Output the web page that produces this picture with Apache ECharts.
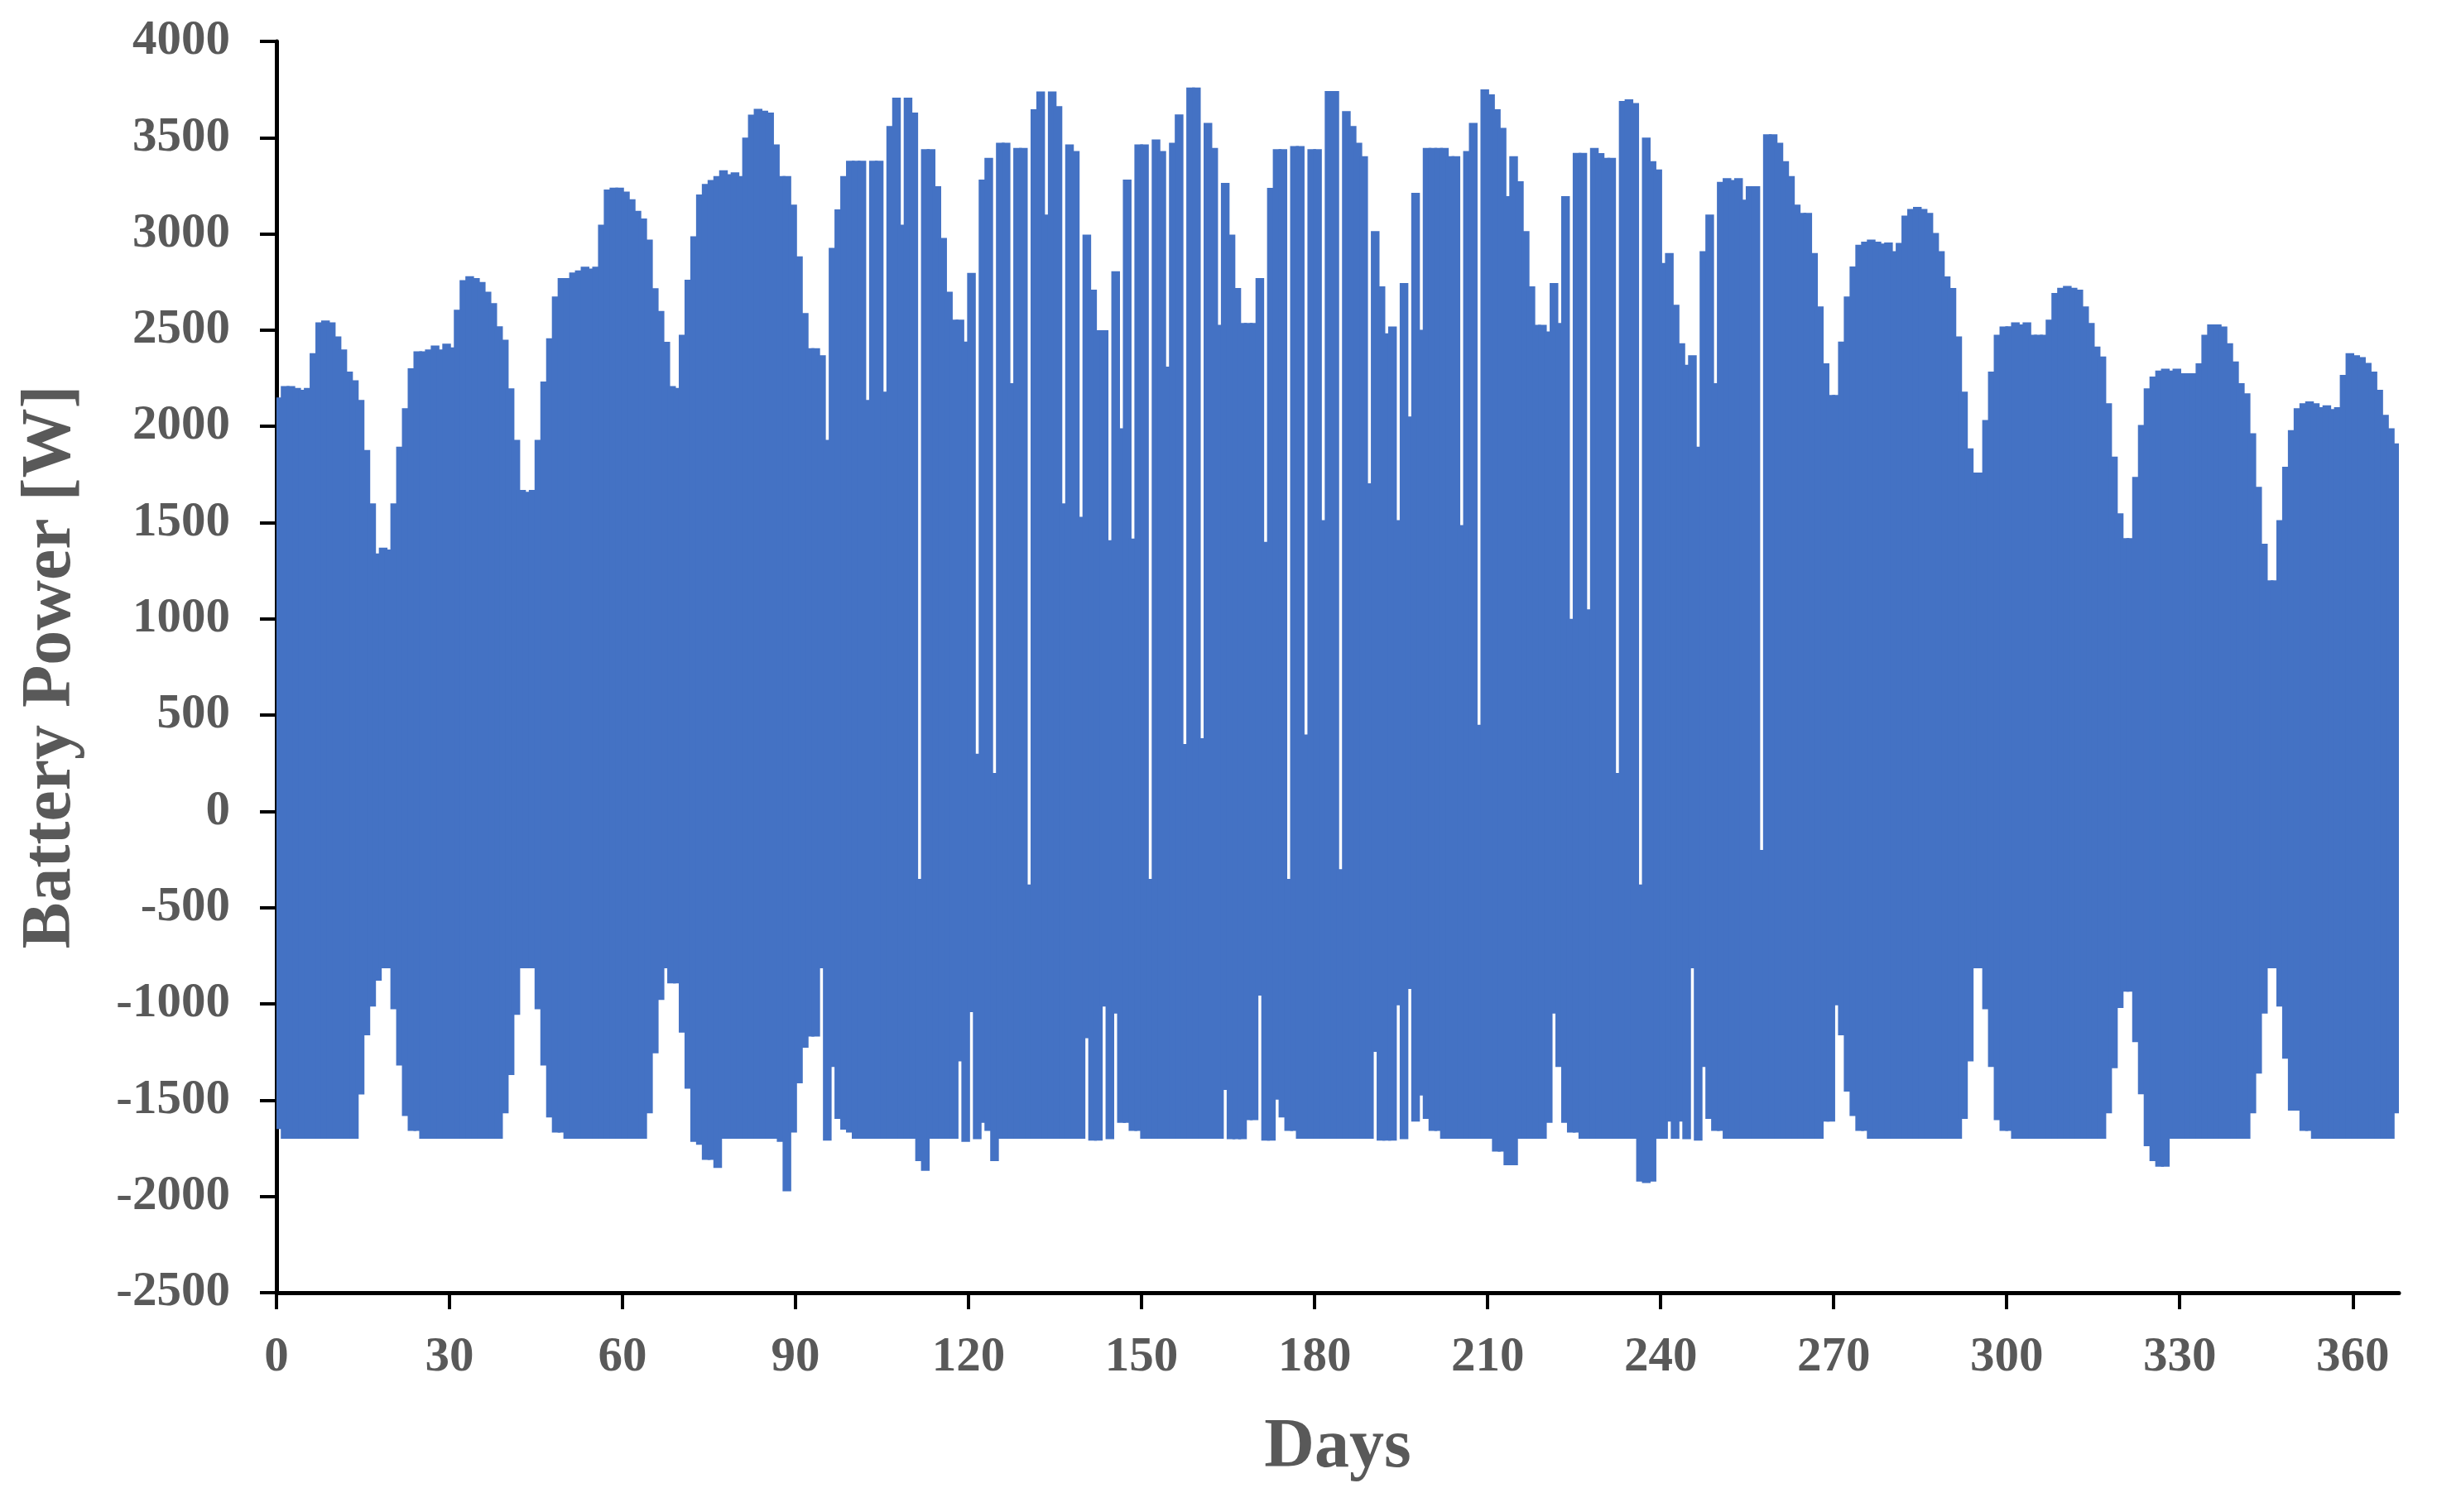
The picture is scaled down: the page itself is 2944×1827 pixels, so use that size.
<!DOCTYPE html>
<html>
<head>
<meta charset="utf-8">
<title>Battery Power</title>
<script src="https://cdn.jsdelivr.net/npm/echarts@6.0.0/dist/echarts.min.js"></script>
<style>
  html, body { margin: 0; padding: 0; background: #fff; }
  #main { width: 2944px; height: 1827px; }
</style>
</head>
<body>
<div id="main"></div>
<script>
// daily maximum battery power [W], day 0 .. 367
var dayMax = [
  2150, 2210, 2210, 2200, 2190, 2200, 2380, 2540, 2550, 2540,
  2467, 2400, 2285, 2240, 2137, 1877, 1600, 1340, 1370, 1360,
  1600, 1895, 2094, 2302, 2390, 2390, 2400, 2420, 2400, 2430,
  2410, 2606, 2760, 2780, 2770, 2750, 2700, 2640, 2520, 2450,
  2198, 1930, 1670, 1660, 1670, 1930, 2233, 2458, 2675, 2771,
  2771, 2800, 2810, 2830, 2820, 2830, 3048, 3230, 3240, 3240,
  3220, 3180, 3120, 3080, 2970, 2718, 2600, 2440, 2210, 2200,
  2476, 2762, 2988, 3205, 3260, 3280, 3300, 3330, 3310, 3320,
  3300, 3500, 3620, 3650, 3640, 3630, 3465, 3300, 3300, 3152,
  2883, 2589, 2406, 2406, 2370, 1930, 2927, 3127, 3300, 3380,
  3380, 3380, 2137, 3380, 3380, 2180, 3560, 3708, 3048, 3708,
  3630, -350, 3440, 3440, 3248, 2979, 2700, 2554, 2554, 2441,
  2797, 300, 3282, 3395, 200, 3473, 3473, 2224, 3447, 3447,
  -380, 3647, 3740, 3100, 3740, 3664, 1600, 3465, 3430, 1530,
  2996, 2710, 2500, 2500, 1409, 2806, 1990, 3282, 1417, 3465,
  3465, -350, 3491, 3430, 2311, 3473, 3621, 350, 3760, 3760,
  380, 3577, 3447, 2528, 3265, 2996, 2719, 2537, 2537, 2537,
  2771, 1400, 3239, 3440, 3440, -350, 3456, 3456, 400, 3440,
  3440, 1513, 3742, 3742, -300, 3638, 3560, 3473, 3404, 1704,
  3014, 2727, 2484, 2519, 1513, 2745, 2051, 3213, 2502, 3447,
  3447, 3447, 3447, 3404, 3404, 1487, 3430, 3577, 450, 3751,
  3725, 3647, 3551, 3196, 3404, 3274, 3014, 2727, 2528, 2528,
  2493, 2745, 2537, 3196, 1000, 3421, 3421, 1050, 3447, 3420,
  3395, 3395, 200, 3690, 3699, 3680, -380, 3500, 3378, 3335,
  2849, 2901, 2632, 2432, 2320, 2370, 1895, 2910, 3100, 2224,
  3270, 3290, 3280, 3290, 3178, 3248, 3248, -200, 3517, 3517,
  3473, 3378, 3300, 3152, 3109, 3109, 2901, 2623, 2328, 2163,
  2163, 2441, 2675, 2831, 2944, 2960, 2970, 2960, 2950, 2955,
  2910, 2953, 3095, 3130, 3140, 3130, 3109, 3005, 2910, 2779,
  2719, 2467, 2181, 1886, 1760, 1760, 2033, 2285, 2476, 2519,
  2520, 2540, 2530, 2540, 2476, 2476, 2476, 2554, 2693, 2720,
  2730, 2720, 2710, 2623, 2537, 2415, 2363, 2120, 1843, 1548,
  1420, 1420, 1738, 2007, 2198, 2259, 2290, 2300, 2290, 2300,
  2276, 2276, 2276, 2328, 2476, 2530, 2530, 2519, 2432, 2337,
  2224, 2172, 1964, 1686, 1391, 1200, 1200, 1513, 1790, 1981,
  2094, 2120, 2130, 2120, 2100, 2110, 2090, 2100, 2268, 2380,
  2370, 2360, 2330, 2285, 2190, 2060, 1990, 1912
];

// daily minimum battery power [W], day 0 .. 367
var dayMin = [
  -1650, -1700, -1700, -1700, -1700, -1700, -1700, -1700, -1700, -1700,
  -1700, -1700, -1700, -1700, -1470, -1163, -1014, -879, -815, -815,
  -1028, -1320, -1582, -1660, -1660, -1700, -1700, -1700, -1700, -1700,
  -1700, -1700, -1700, -1700, -1700, -1700, -1700, -1700, -1700, -1568,
  -1369, -1057, -815, -815, -815, -1028, -1320, -1590, -1668, -1668,
  -1700, -1700, -1700, -1700, -1700, -1700, -1700, -1700, -1700, -1700,
  -1700, -1700, -1700, -1700, -1568, -1256, -979, -815, -893, -893,
  -1149, -1440, -1717, -1732, -1810, -1810, -1852, -1700, -1700, -1700,
  -1700, -1700, -1700, -1700, -1700, -1700, -1700, -1717, -1973, -1668,
  -1412, -1227, -1170, -1170, -815, -1710, -1327, -1597, -1653, -1668,
  -1700, -1700, -1700, -1700, -1700, -1700, -1700, -1700, -1700, -1700,
  -1700, -1817, -1867, -1700, -1700, -1700, -1700, -1700, -1298, -1717,
  -1043, -1703, -1618, -1660, -1817, -1700, -1700, -1700, -1700, -1700,
  -1700, -1700, -1700, -1700, -1700, -1700, -1700, -1700, -1700, -1700,
  -1178, -1710, -1710, -1014, -1703, -1050, -1618, -1618, -1660, -1660,
  -1700, -1700, -1700, -1700, -1700, -1700, -1700, -1700, -1700, -1700,
  -1700, -1700, -1700, -1700, -1447, -1703, -1703, -1703, -1604, -1604,
  -957, -1710, -1710, -1497, -1590, -1660, -1660, -1700, -1700, -1700,
  -1700, -1700, -1700, -1700, -1700, -1700, -1700, -1700, -1700, -1700,
  -1249, -1710, -1710, -1710, -1007, -1703, -922, -1611, -1476, -1597,
  -1660, -1660, -1700, -1700, -1700, -1700, -1700, -1700, -1700, -1700,
  -1700, -1767, -1767, -1838, -1838, -1700, -1700, -1700, -1700, -1700,
  -1618, -1050, -1327, -1618, -1668, -1668, -1700, -1700, -1700, -1700,
  -1700, -1700, -1700, -1700, -1700, -1700, -1923, -1930, -1923, -1700,
  -1700, -1611, -1700, -1611, -1703, -815, -1710, -1327, -1597, -1660,
  -1660, -1700, -1700, -1700, -1700, -1700, -1700, -1700, -1700, -1700,
  -1700, -1700, -1700, -1700, -1700, -1700, -1700, -1700, -1611, -1611,
  -1007, -1163, -1455, -1582, -1660, -1660, -1700, -1700, -1700, -1700,
  -1700, -1700, -1700, -1700, -1700, -1700, -1700, -1700, -1700, -1700,
  -1700, -1700, -1597, -1298, -815, -815, -1028, -1327, -1604, -1660,
  -1660, -1700, -1700, -1700, -1700, -1700, -1700, -1700, -1700, -1700,
  -1700, -1700, -1700, -1700, -1700, -1700, -1700, -1568, -1334, -1021,
  -936, -936, -1199, -1469, -1739, -1817, -1845, -1845, -1700, -1700,
  -1700, -1700, -1700, -1700, -1700, -1700, -1700, -1700, -1700, -1700,
  -1700, -1700, -1568, -1362, -1050, -815, -815, -1014, -1284, -1554,
  -1554, -1660, -1660, -1700, -1700, -1700, -1700, -1700, -1700, -1700,
  -1700, -1700, -1700, -1700, -1700, -1700, -1700, -1568
];

var xTicks = [0, 30, 60, 90, 120, 150, 180, 210, 240, 270, 300, 330, 360];
var xMax = 368;
var yMin = -2500, yMax = 4000, yStep = 500;

var fontFam = "'Liberation Serif', 'Times New Roman', serif";
var textGrey = '#595959';
var barBlue = '#4472C4';

var chart = echarts.init(document.getElementById('main'), null, { renderer: 'canvas' });

var seriesData = dayMax.map(function (v, i) {
    return [i, v, dayMin[i]];
});

// one block per day from daily min to daily max; a bit wider than a day so
// neighbouring days overlap and the band looks continuous
function renderDay(params, api) {
    var d = api.value(0);
    var topLeft = api.coord([Math.max(d - 0.25, 0), api.value(1)]);
    var botRight = api.coord([Math.min(d + 1.25, xMax), api.value(2)]);
    return {
        type: 'rect',
        shape: {
            x: topLeft[0],
            y: topLeft[1],
            width: botRight[0] - topLeft[0],
            height: botRight[1] - topLeft[1]
        },
        style: { fill: barBlue }
    };
}

var option = {
    backgroundColor: '#ffffff',
    animation: false,
    grid: { left: 334, right: 46, top: 50, bottom: 265, containLabel: false },
    xAxis: {
        type: 'value',
        min: 0,
        max: xMax,
        name: 'Days',
        nameLocation: 'middle',
        nameGap: 146,
        nameTextStyle: { fontFamily: fontFam, fontWeight: 'bold', fontSize: 84, color: textGrey },
        axisLine: { onZero: false, lineStyle: { color: '#000', width: 5 } },
        axisTick: { show: true, length: 20, lineStyle: { color: '#000', width: 4 }, customValues: xTicks },
        axisLabel: {
            customValues: xTicks,
            margin: 49,
            fontFamily: fontFam, fontWeight: 'bold', fontSize: 59, color: textGrey
        },
        splitLine: { show: false }
    },
    yAxis: {
        type: 'value',
        min: yMin,
        max: yMax,
        interval: yStep,
        name: 'Battery Power [W]',
        nameLocation: 'middle',
        nameGap: 230,
        nameTextStyle: { fontFamily: fontFam, fontWeight: 'bold', fontSize: 84, color: textGrey },
        axisLine: { show: true, lineStyle: { color: '#000', width: 5 } },
        axisTick: { show: true, length: 20, lineStyle: { color: '#000', width: 4 } },
        axisLabel: {
            margin: 56,
            formatter: function (v) { return String(v); },
            fontFamily: fontFam, fontWeight: 'bold', fontSize: 59, color: textGrey
        },
        splitLine: { show: false }
    },
    series: [
        {
            type: 'custom',
            name: 'Battery Power',
            renderItem: renderDay,
            encode: { x: 0, y: [1, 2] },
            data: seriesData,
            silent: true
        }
    ]
};

chart.setOption(option);
</script>
</body>
</html>
